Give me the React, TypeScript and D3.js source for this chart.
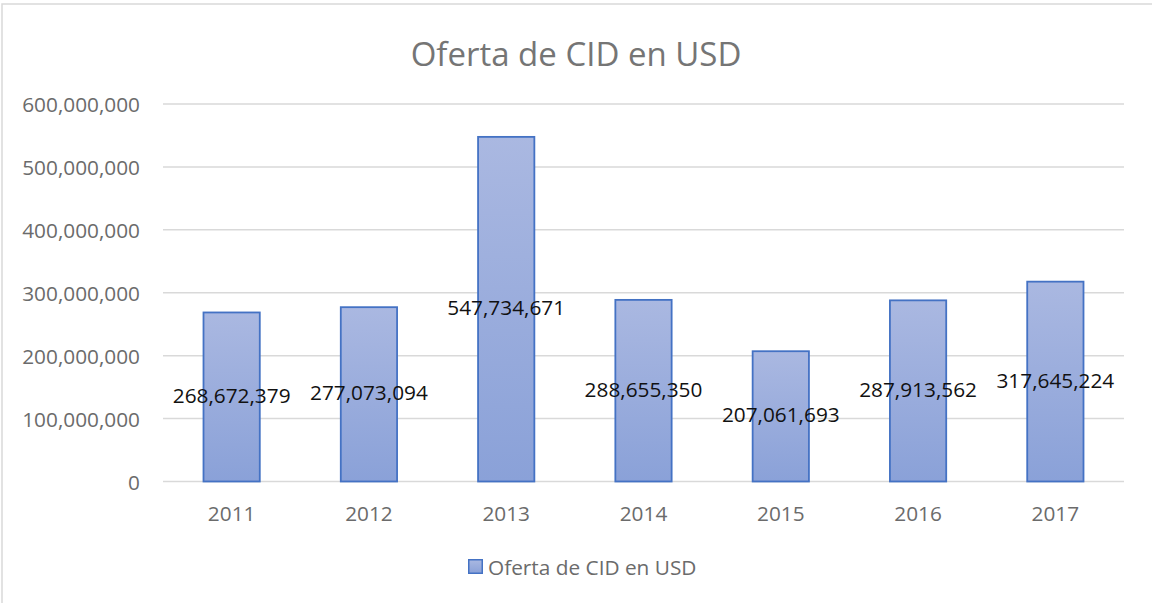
import React from 'react';
import * as d3 from 'd3';

const years = ["2011", "2012", "2013", "2014", "2015", "2016", "2017"];
const ofertaUSD = [268672379, 277073094, 547734671, 288655350, 207061693, 287913562, 317645224];
const yTicks = [0, 100000000, 200000000, 300000000, 400000000, 500000000, 600000000];

const chartTitle = "Oferta de CID en USD";
const seriesName = "Oferta de CID en USD";

const width = 1152;
const height = 603;
const margin = { top: 104, right: 28, bottom: 121.5, left: 163 };
const font = "'Open Sans', 'Noto Sans', sans-serif";
const textGray = "#6b6b6b";
const gridColor = "#d9d9d9";

export default function App() {
  const x = d3.scaleBand<string>()
    .domain(years)
    .range([margin.left, width - margin.right])
    .padding(0);

  const y = d3.scaleLinear()
    .domain([0, 600000000])
    .range([height - margin.bottom, margin.top]);

  const barW = x.bandwidth() * 0.41;
  const fmt = d3.format(",");

  return (
    <svg width={width} height={height}
      style={{ position: "absolute", left: 0, top: 0, background: "white" }}
      fontFamily={font}>
      <defs>
        <linearGradient id="barFill" x1="0" y1="0" x2="0" y2="1">
          <stop offset="0%" stopColor="#aab8e1" />
          <stop offset="100%" stopColor="#8aa1d8" />
        </linearGradient>
      </defs>

      {/* chart frame */}
      <rect x={2} y={4} width={width + 10} height={height + 10}
        fill="white" stroke={gridColor} strokeWidth={1.5} />

      <text x={576} y={53} textAnchor="middle" dominantBaseline="central"
        fontSize={33} fill="#757575">{chartTitle}</text>

      {/* gridlines + y labels */}
      {yTicks.map(t => (
        <g key={t}>
          <line x1={margin.left} x2={width - margin.right} y1={y(t)} y2={y(t)}
            stroke={gridColor} strokeWidth={1.5} />
          <text x={140} y={y(t)} textAnchor="end" dominantBaseline="central"
            fontSize={20.8} fill={textGray}>{fmt(t)}</text>
        </g>
      ))}

      {/* bars */}
      {years.map((yr, i) => {
        const cx = x(yr)! + x.bandwidth() / 2;
        return (
          <rect key={yr} x={cx - barW / 2} y={y(ofertaUSD[i])}
            width={barW} height={y(0) - y(ofertaUSD[i])}
            fill="url(#barFill)" stroke="#4472c4" strokeWidth={1.8} />
        );
      })}

      {/* data labels, centred in bar */}
      {years.map((yr, i) => {
        const cx = x(yr)! + x.bandwidth() / 2;
        return (
          <text key={yr} x={cx} y={y(ofertaUSD[i] / 2) - 2} textAnchor="middle"
            dominantBaseline="central" fontSize={20.8} fill="#111">
            {fmt(ofertaUSD[i])}
          </text>
        );
      })}

      {/* x labels */}
      {years.map(yr => (
        <text key={yr} x={x(yr)! + x.bandwidth() / 2} y={513} textAnchor="middle"
          dominantBaseline="central" fontSize={20.8} fill={textGray}>{yr}</text>
      ))}

      {/* legend */}
      <g transform="translate(468,559)">
        <rect x={0.75} y={0.75} width={13.5} height={13.5} fill="url(#barFill)"
          stroke="#4472c4" strokeWidth={1.5} />
        <text x={20} y={8} dominantBaseline="central" fontSize={20.8}
          fill={textGray}>{seriesName}</text>
      </g>
    </svg>
  );
}
